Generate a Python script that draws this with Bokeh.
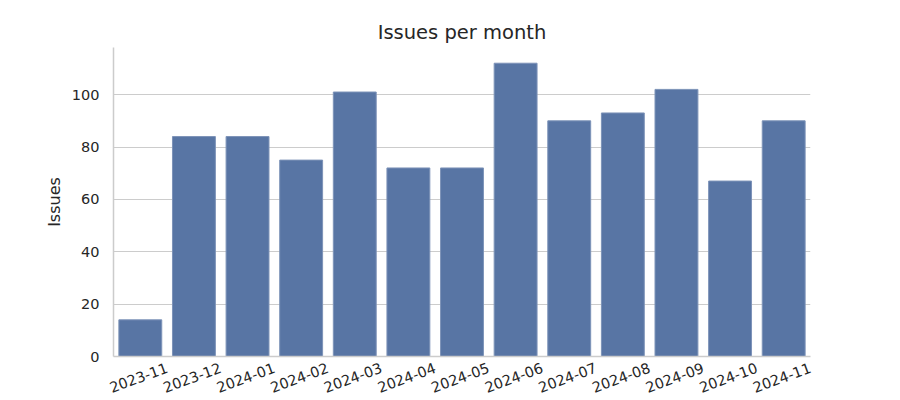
from bokeh.plotting import figure
from bokeh.models import Range1d, FixedTicker
from bokeh.embed import file_html
from bokeh.resources import INLINE
import math

months = ["2023-11", "2023-12", "2024-01", "2024-02", "2024-03", "2024-04", "2024-05",
          "2024-06", "2024-07", "2024-08", "2024-09", "2024-10", "2024-11"]
issues = [14, 84, 84, 75, 101, 72, 72, 112, 90, 93, 102, 67, 90]
y_ticks = [0, 20, 40, 60, 80, 100]

FONT = "DejaVu Sans"
TXT = "#262626"

xpos = list(range(len(months)))          # category positions
LABEL_SHIFT = 0.5                         # rotated labels centred under bars

p = figure(x_range=Range1d(-0.5, len(months) - 0.5), y_range=Range1d(0, 118),
           width=900, height=400, output_backend="svg", toolbar_location=None,
           title="Issues per month",
           min_border_left=113, min_border_right=90, min_border_top=47, min_border_bottom=44)

p.vbar(x=xpos, top=issues, width=0.8,
       fill_color="#5875a4", line_color="#7d93b8", line_width=1)

p.title.align = "center"
p.title.text_font = FONT
p.title.text_font_size = "19.5px"
p.title.text_font_style = "normal"
p.title.text_color = TXT
p.title.standoff = 8

p.yaxis.axis_label = "Issues"
p.yaxis.axis_label_text_font = FONT
p.yaxis.axis_label_text_font_size = "16px"
p.yaxis.axis_label_text_font_style = "normal"
p.yaxis.axis_label_text_color = TXT
p.yaxis.ticker = FixedTicker(ticks=y_ticks)
p.yaxis.major_label_standoff = 8

xticks = [i + LABEL_SHIFT for i in xpos]
p.xaxis.ticker = FixedTicker(ticks=xticks)
p.xaxis.major_label_overrides = {t: m for t, m in zip(xticks, months)}
p.xaxis.major_label_orientation = math.radians(20)
p.xaxis.major_label_standoff = 5

for ax in (p.xaxis, p.yaxis):
    ax.major_label_text_font = FONT
    ax.major_label_text_font_size = "14.5px"
    ax.major_label_text_color = TXT
    ax.major_tick_line_color = None
    ax.minor_tick_line_color = None
    ax.axis_line_color = "#cccccc"
    ax.axis_line_width = 1.5

p.xgrid.grid_line_color = None
p.ygrid.grid_line_color = "#cccccc"
p.ygrid.grid_line_width = 1
p.outline_line_color = None
p.background_fill_color = "white"
p.border_fill_color = "white"

open("out.html", "w").write(file_html(p, INLINE))
